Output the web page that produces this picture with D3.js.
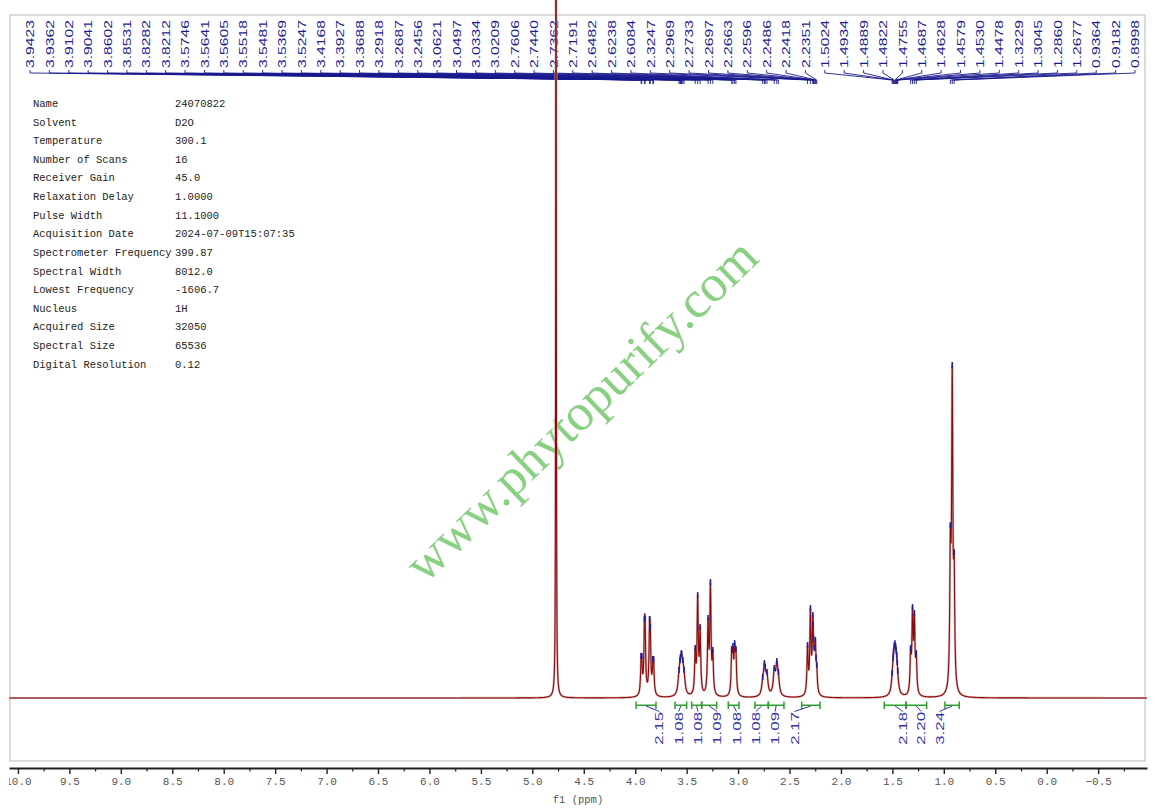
<!DOCTYPE html>
<html><head><meta charset="utf-8">
<script src="https://cdn.jsdelivr.net/npm/d3@7"></script>
<style>body{margin:0;background:#fff}svg{display:block}</style>
</head><body>
<svg id="c" width="1158" height="811"></svg>
<script>
// ---------- data ----------
const peakPpm = [3.9423,3.9362,3.9102,3.9041,3.8602,3.8531,3.8282,3.8212,
  3.5746,3.5641,3.5605,3.5518,3.5481,3.5369,3.5247,
  3.4168,3.3927,3.3688,
  3.2918,3.2687,3.2456,
  3.0621,3.0497,3.0334,3.0209,
  2.7606,2.7440,2.7362,2.7191,
  2.6482,2.6238,2.6084,
  2.3247,2.2969,2.2733,2.2697,2.2663,2.2596,2.2486,2.2418,2.2351,
  1.5024,1.4934,1.4889,1.4822,1.4755,1.4687,1.4628,1.4579,1.4530,1.4478,
  1.3229,1.3045,1.2860,1.2677,
  0.9364,0.9182,0.8998];
// observed peak-top intensities (methyl top = 100)
const peakHeight = [12.6,12.6,23.7,23.7,23.7,21.3,11.7,11.7,
  8.4,11.4,12.0,13.5,13.2,11.4,8.4,
  15.0,30.9,21.3,
  24.0,34.8,14.4,
  14.7,15.6,16.5,14.7,
  6.3,10.5,9.3,7.8,
  9.0,11.1,7.8,
  15.9,27.0,24.9,21.0,18.0,15.0,17.4,12.0,9.9,
  7.5,12.0,13.8,15.6,16.5,15.0,14.4,12.0,10.8,6.9,
  15.0,27.3,25.5,13.5,
  51.9,100,43.8];
const broadRegions = [[3.60,3.50],[2.78,2.59],[1.51,1.44]];
const solventPpm = 4.77, solventHeight = 450;

const integralFrom  = [3.992,3.613,3.451,3.354,3.095,2.836,2.706,2.382,1.579,1.368,0.989];
const integralTo    = [3.798,3.500,3.354,3.208,2.991,2.706,2.554,2.204,1.368,1.167,0.850];
const integralValue = ["2.15","1.08","1.08","1.09","1.08","1.08","1.09","2.17","2.18","2.20","3.24"];

const paramNames = ["Name","Solvent","Temperature","Number of Scans","Receiver Gain","Relaxation Delay",
  "Pulse Width","Acquisition Date","Spectrometer Frequency","Spectral Width","Lowest Frequency",
  "Nucleus","Acquired Size","Spectral Size","Digital Resolution"];
const paramValues = ["24070822","D2O","300.1","16","45.0","1.0000","11.1000","2024-07-09T15:07:35",
  "399.87","8012.0","-1606.7","1H","32050","65536","0.12"];

const axisTicks = [10.0,9.5,9.0,8.5,8.0,7.5,7.0,6.5,6.0,5.5,5.0,4.5,4.0,3.5,3.0,2.5,2.0,1.5,1.0,0.5,0.0,-0.5];
const axisMinor = [9.75,9.25,8.75,8.25,7.75,7.25,6.75,6.25,5.75,5.25,4.75,4.25,3.75,3.25,2.75,2.25,1.75,1.25,0.75,0.25,-0.25,-0.75];
const watermark = "www.phytopurify.com";

// ---------- scales ----------
const svg = d3.select("#c");
const x = d3.scaleLinear().domain([10.087,-0.975]).range([9,1147]);
const y = d3.scaleLinear().domain([0,100]).range([698,365]);

// ---------- lineshape ----------
const widths = peakPpm.map(p => broadRegions.some(([a,b]) => p<=a && p>=b) ? 0.012 : 0.007);
const lor = (p,c,g) => { const d=(p-c)/g; return 1/(1+d*d); };
let amp = peakHeight.slice();
function sumAt(p){
  let s = solventHeight*lor(p,solventPpm,0.0022);
  for(let j=0;j<peakPpm.length;j++) s += amp[j]*lor(p,peakPpm[j],widths[j]);
  return s;
}
for(let it=0; it<80; it++){
  const s = peakPpm.map(p=>sumAt(p));
  amp = amp.map((a,i)=> a*Math.pow(peakHeight[i]/s[i],0.7));
}
const pts = [];
for(let p=10.087; p>=-0.975; p-=0.0005) pts.push([p,sumAt(p)]);

// ---------- frame ----------
svg.append("rect").attr("x",10).attr("y",15).attr("width",1135).attr("height",746)
  .attr("fill","none").attr("stroke","#d0d0d0").attr("stroke-width",1.5);

// ---------- parameter table ----------
const tbl = svg.append("g").attr("font-family","'Liberation Mono', monospace").attr("font-size","10.5px").attr("fill","#222");
paramNames.forEach((n,i)=>{
  const yy = 107 + i*18.62;
  tbl.append("text").attr("x",33).attr("y",yy).text(n);
  tbl.append("text").attr("x",175).attr("y",yy).text(paramValues[i]);
});

// ---------- watermark ----------
svg.append("text").attr("transform","translate(582,411) rotate(-44)")
  .attr("text-anchor","middle").attr("dy","0.3em")
  .attr("font-family","'Liberation Serif', serif").attr("font-size","52px")
  .attr("fill","#74c86c").attr("fill-opacity",0.85).text(watermark);

// ---------- peak labels ----------
const navy = "#1b1b8f";
const n = peakPpm.length;
const lx = d3.scaleLinear().domain([0,n-1]).range([30,1135]);
const pl = svg.append("g");
peakPpm.forEach((p,i)=>{
  pl.append("text").attr("transform",`translate(${lx(i)},68) rotate(-90) scale(1.35,1)`)
    .attr("dy","0.36em").attr("font-family","'Liberation Sans', Arial, sans-serif")
    .attr("font-size","11.6px").attr("fill",navy).text(d3.format(".4f")(p));
  pl.append("path").attr("d",`M${lx(i)},70V73L${x(p)},80V84`)
    .attr("fill","none").attr("stroke",navy).attr("stroke-width",0.9);
});

// ---------- spectrum ----------
const line = d3.line().x(d=>x(d[0])).y(d=>y(d[1]));
svg.append("path").datum(pts).attr("d",line).attr("fill","none")
  .attr("stroke","#dcb0b0").attr("stroke-width",2.2).attr("stroke-linejoin","round");
svg.append("path").datum(pts).attr("d",line).attr("fill","none")
  .attr("stroke","#8a0c0c").attr("stroke-width",1.1).attr("stroke-linejoin","round");

// peak pick markers
peakPpm.forEach(p=>{
  const yt = y(sumAt(p));
  svg.append("line").attr("x1",x(p)).attr("x2",x(p)).attr("y1",yt-3).attr("y2",yt+3)
    .attr("stroke","#1f1fa0").attr("stroke-width",1.6);
});

// ---------- integrals ----------
const green = "#2e9e2e", iblue = "#3434a8";
const mids = integralFrom.map((a,i)=> x((a+integralTo[i])/2));
const clusters = []; let cur=[0];
for(let i=1;i<mids.length;i++){ if(mids[i]-mids[i-1] < 50) cur.push(i); else { clusters.push(cur); cur=[i]; } }
clusters.push(cur);
const labX = [];
clusters.forEach(c=>{
  const m = d3.mean(c,i=>mids[i]); const sp = c.length>3 ? 19.3 : 18.3;
  c.forEach((i,k)=> labX[i] = m + (k-(c.length-1)/2)*sp);
});
const ig = svg.append("g");
integralFrom.forEach((a,i)=>{
  const x1=x(a), x2=x(integralTo[i]);
  ig.append("path").attr("d",`M${x1},701.5V709M${x1},705.3H${x2}M${x2},701.5V709`)
    .attr("fill","none").attr("stroke",green).attr("stroke-width",1.5);
  ig.append("path").attr("d",`M${mids[i]},706L${labX[i]},711.5`).attr("stroke",iblue).attr("stroke-width",1).attr("fill","none");
  ig.append("text").attr("transform",`translate(${labX[i]},712) rotate(-90) scale(1.45,1)`)
    .attr("text-anchor","end").attr("dy","0.36em")
    .attr("font-family","'Liberation Sans', Arial, sans-serif").attr("font-size","11.6px")
    .attr("fill",iblue).text(integralValue[i]);
});

// ---------- axis ----------
svg.append("defs").append("clipPath").attr("id","axclip").append("rect")
  .attr("x",9).attr("y",-10).attr("width",1150).attr("height",60);
const ax = svg.append("g").attr("transform","translate(0,768)").attr("clip-path","url(#axclip)");
ax.call(d3.axisBottom(x).tickValues(axisTicks).tickSize(6).tickSizeOuter(0).tickFormat(d3.format(".1f")));
ax.select(".domain").attr("stroke","#222").attr("stroke-width",2);
ax.selectAll(".tick line").attr("stroke","#222").attr("stroke-width",1.4);
ax.selectAll(".tick text").attr("font-family","'Liberation Mono', monospace").attr("font-size","11px").attr("fill","#555");
const axm = svg.append("g").attr("transform","translate(0,768)");
axm.call(d3.axisBottom(x).tickValues(axisMinor).tickSize(3.5).tickSizeOuter(0).tickFormat(""));
axm.select(".domain").remove();
axm.selectAll(".tick line").attr("stroke","#222").attr("stroke-width",1.2);
svg.append("text").attr("x",578).attr("y",803).attr("text-anchor","middle")
  .attr("font-family","'Liberation Mono', monospace").attr("font-size","10.5px").attr("fill","#555").text("f1 (ppm)");
</script>
</body></html>
